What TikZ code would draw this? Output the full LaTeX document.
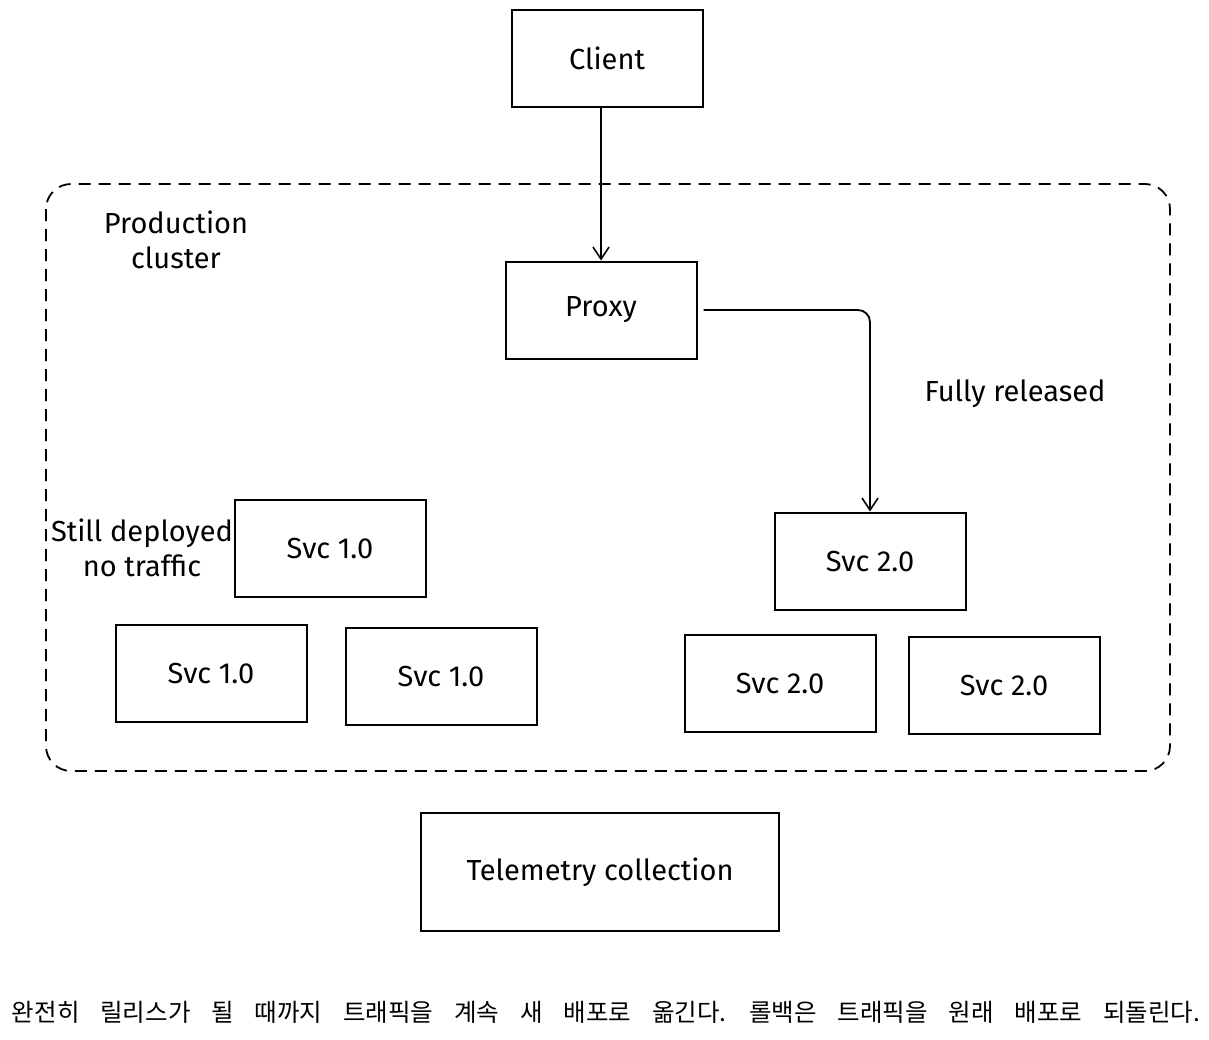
\documentclass[tikz,border=0pt]{standalone}
\usepackage{fontspec}
\setmainfont{Fira Sans}
\newfontfamily\kr[WordSpace=3.8]{Noto Sans CJK KR}
\usetikzlibrary{arrows.meta}
\begin{document}
\begin{tikzpicture}[x=1pt,y=-1pt,
  box/.style={draw, line width=2pt, minimum width=191pt, minimum height=97pt, inner sep=0pt, font=\fontsize{29}{33}\selectfont},
  lbl/.style={font=\fontsize{29}{35}\selectfont, align=center, inner sep=0pt},
  conn/.style={line width=1.8pt, -{Straight Barb[length=12pt,width=16pt,line width=1.6pt]}}]
\useasboundingbox (0,0) rectangle (1209,1039);
\draw[line width=1.8pt, dash pattern=on 12pt off 8pt, rounded corners=25pt] (46,184) rectangle (1170,771);
\node[box] (client) at (607,58) {Client};
\node[box] (proxy) at (601,310) {Proxy};
\node[lbl] (prod) at (176,240) {Production\\cluster};
\node[lbl] (full) at (1015,394) {Fully released};
\node[box] (s1a) at (330,548) {Svc 1.0};
\node[lbl] (still) at (142,548) {Still deployed\\no traffic};
\node[box] (s1b) at (211,673) {Svc 1.0};
\node[box] (s1c) at (441,676) {Svc 1.0};
\node[box] (s2a) at (870,561) {Svc 2.0};
\node[box] (s2b) at (780,683) {Svc 2.0};
\node[box] (s2c) at (1004,685) {Svc 2.0};
\node[box, minimum width=358pt, minimum height=118pt] (tele) at (600,872) {Telemetry collection};
\node[inner sep=0pt, font=\kr\fontsize{24.5}{28}\selectfont] (note) at (606,1012) {완전히 릴리스가 될 때까지 트래픽을 계속 새 배포로 옮긴다. 롤백은 트래픽을 원래 배포로 되돌린다.};
\draw[conn] (client.south -| proxy.north) -- (proxy.north);
\draw[conn, rounded corners=12pt] ([xshift=6pt]proxy.east) -- (proxy.east -| s2a.north) -- (s2a.north);
\end{tikzpicture}
\end{document}
